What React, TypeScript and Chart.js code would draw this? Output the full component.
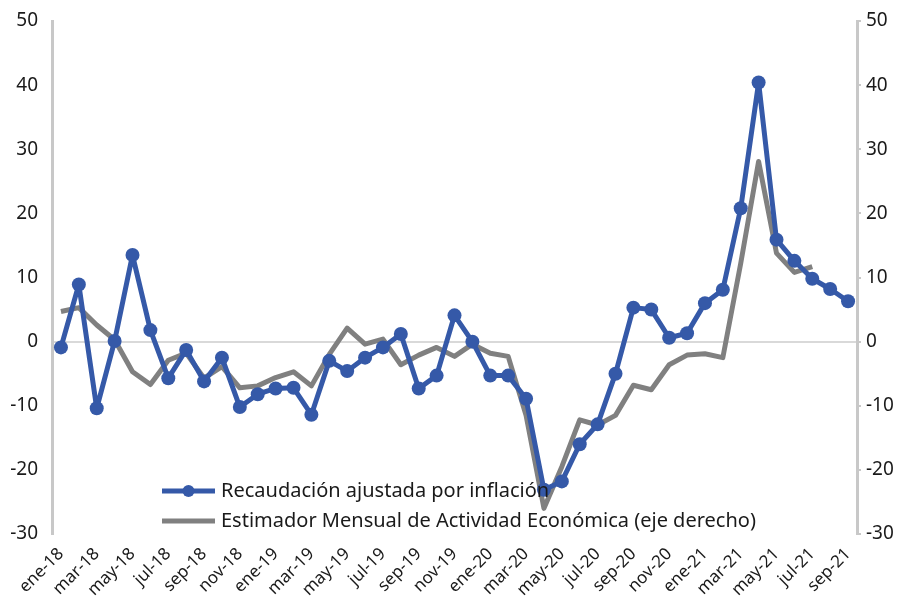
import React, { useEffect, useRef } from "react";
import { Chart, registerables } from "chart.js";

Chart.register(...registerables);

const categories: string[] = [
  "ene-18", "feb-18", "mar-18", "abr-18", "may-18", "jun-18", "jul-18", "ago-18", "sep-18", "oct-18", "nov-18", "dic-18",
  "ene-19", "feb-19", "mar-19", "abr-19", "may-19", "jun-19", "jul-19", "ago-19", "sep-19", "oct-19", "nov-19", "dic-19",
  "ene-20", "feb-20", "mar-20", "abr-20", "may-20", "jun-20", "jul-20", "ago-20", "sep-20", "oct-20", "nov-20", "dic-20",
  "ene-21", "feb-21", "mar-21", "abr-21", "may-21", "jun-21", "jul-21", "ago-21", "sep-21",
];

const recaudacion: number[] = [
  -0.9, 8.9, -10.4, 0.1, 13.5, 1.8, -5.7, -1.3, -6.2, -2.5, -10.2, -8.2,
  -7.3, -7.2, -11.4, -3.0, -4.6, -2.5, -0.9, 1.2, -7.3, -5.3, 4.1, 0.0,
  -5.3, -5.3, -8.9, -23.1, -21.8, -16.0, -12.9, -5.0, 5.3, 5.0, 0.6, 1.3,
  6.0, 8.1, 20.8, 40.4, 15.9, 12.6, 9.8, 8.2, 6.3,
];

const imae: (number | null)[] = [
  4.7, 5.3, 2.6, 0.3, -4.7, -6.7, -2.9, -1.8, -5.7, -3.9, -7.2, -6.9,
  -5.6, -4.7, -6.9, -2.0, 2.1, -0.4, 0.4, -3.6, -2.1, -0.9, -2.3, -0.4,
  -1.8, -2.3, -11.5, -26.0, -19.5, -12.2, -13.0, -11.5, -6.8, -7.5, -3.6, -2.1,
  -1.9, -2.5, 12.2, 28.1, 13.8, 10.8, 11.7, null, null,
];

const seriesLabels: string[] = [
  "Recaudación ajustada por inflación",
  "Estimador Mensual de Actividad Económica (eje derecho)",
];

const yTicks: number[] = [-30, -20, -10, 0, 10, 20, 30, 40, 50];

const BLUE = "#3559A8";
const GREY = "#808080";
const FONT = "'Noto Sans', sans-serif";

const legendPlugin = {
  id: "customLegend",
  afterDraw(chart: any) {
    const ctx = chart.ctx as CanvasRenderingContext2D;
    const items = [
      { label: seriesLabels[0], color: BLUE, point: true, y: 491 },
      { label: seriesLabels[1], color: GREY, point: false, y: 521 },
    ];
    ctx.save();
    for (const it of items) {
      ctx.strokeStyle = it.color;
      ctx.lineWidth = 5;
      ctx.beginPath();
      ctx.moveTo(162, it.y);
      ctx.lineTo(215, it.y);
      ctx.stroke();
      if (it.point) {
        ctx.fillStyle = it.color;
        ctx.beginPath();
        ctx.arc(188.5, it.y, 6, 0, Math.PI * 2);
        ctx.fill();
      }
      ctx.fillStyle = "#1a1a1a";
      ctx.font = `20px ${FONT}`;
      ctx.textBaseline = "middle";
      ctx.textAlign = "left";
      ctx.fillText(it.label, 221, it.y);
    }
    ctx.restore();
  },
};

export default function App() {
  const ref = useRef<HTMLCanvasElement | null>(null);

  useEffect(() => {
    document.body.style.margin = "0";
    const canvas = ref.current;
    if (!canvas) return;
    const fitY = (w: number) => (s: any) => {
      s.width = w;
      s.paddingTop = 0;
      s.paddingBottom = 0;
    };
    const chart = new Chart(canvas, {
      type: "line",
      data: {
        labels: categories,
        datasets: [
          {
            label: seriesLabels[1],
            data: imae,
            yAxisID: "y1",
            borderColor: GREY,
            backgroundColor: GREY,
            borderWidth: 5,
            pointRadius: 0,
            pointHoverRadius: 0,
            tension: 0,
            spanGaps: false,
            borderJoinStyle: "round",
            order: 2,
          },
          {
            label: seriesLabels[0],
            data: recaudacion,
            yAxisID: "y",
            borderColor: BLUE,
            backgroundColor: BLUE,
            borderWidth: 5,
            pointRadius: 7,
            pointBorderWidth: 0,
            pointBackgroundColor: BLUE,
            tension: 0,
            borderJoinStyle: "round",
            order: 1,
          },
        ],
      },
      options: {
        animation: false,
        responsive: false,
        maintainAspectRatio: false,
        layout: { padding: { top: 21, left: 0, right: 0, bottom: 0 } },
        plugins: {
          legend: { display: false },
          tooltip: { enabled: false },
        },
        scales: {
          x: {
            type: "category",
            offset: true,
            afterFit: (s: any) => { s.height = 67; s.paddingLeft = 0; s.paddingRight = 0; },
            grid: { display: false, drawTicks: false },
            border: { display: false },
            ticks: {
              autoSkip: false,
              maxRotation: 45,
              minRotation: 45,
              padding: 10,
              color: "#1a1a1a",
              font: { family: FONT, size: 17 },
              callback: (_v: any, i: number) => (i % 2 === 0 ? categories[i] : ""),
            },
          },
          y: {
            position: "left",
            min: -30,
            max: 50,
            afterFit: fitY(52),
            afterBuildTicks: (s: any) => { s.ticks = yTicks.map((v) => ({ value: v })); },
            grid: {
              drawTicks: false,
              lineWidth: 2,
              color: (c: any) => (c.tick && c.tick.value === 0 ? "#d9d9d9" : "rgba(0,0,0,0)"),
            },
            border: { color: "#c8c8c8", width: 3 },
            ticks: {
              padding: 14,
              color: "#1a1a1a",
              font: { family: FONT, size: 19 },
            },
          },
          y1: {
            position: "right",
            min: -30,
            max: 50,
            afterFit: fitY(48),
            afterBuildTicks: (s: any) => { s.ticks = yTicks.map((v) => ({ value: v })); },
            grid: { drawOnChartArea: false, drawTicks: true, tickLength: 4, color: "#c8c8c8", lineWidth: 2 },
            border: { color: "#c8c8c8", width: 3 },
            ticks: {
              padding: 5,
              color: "#1a1a1a",
              font: { family: FONT, size: 19 },
            },
          },
        },
      },
      plugins: [legendPlugin],
    });
    return () => chart.destroy();
  }, []);

  return (
    <div style={{ width: 905, height: 601, background: "#fff" }}>
      <canvas ref={ref} width={905} height={601} style={{ display: "block" }} />
    </div>
  );
}
